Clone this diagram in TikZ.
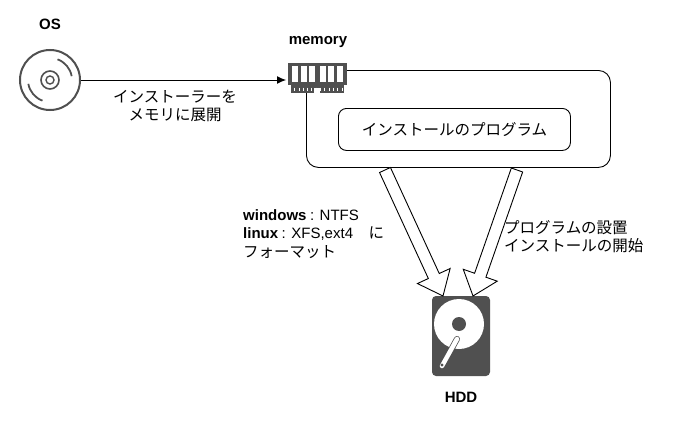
\documentclass[tikz,border=0pt]{standalone}
\usepackage{fontspec}
\setmainfont{Liberation Sans}
\newfontfamily\cjk{Noto Sans CJK JP}
\usetikzlibrary{calc,arrows.meta}
\definecolor{ic}{HTML}{505050}
\tikzset{x=1pt,y=-1pt,
 lbl/.style={font=\fontsize{15.5}{18.5}\selectfont\cjk, align=center, inner sep=0},
 blbl/.style={font=\fontsize{15}{17}\selectfont\bfseries, inner sep=0},
 box/.style={draw=black, line width=0.9pt, rounded corners=12pt},
 barrow/.style={draw=black, line width=0.9pt, fill=white}}
\newcommand{\lat}{\fontspec{Liberation Sans}\fontsize{15}{18.5}\selectfont}
\newcommand{\blockarrow}[2]{%
 \path[barrow] let \p1=(#1), \p2=(#2), \n1={atan2(\y2-\y1,\x2-\x1)}, \n2={veclen(\x2-\x1,\y2-\y1)} in
  [shift={(\p1)}, rotate=\n1, x=1pt, y=1pt]
  (0,-6) -- (\n2-22,-6) -- (\n2-22,-18) -- (\n2,0) -- (\n2-22,18) -- (\n2-22,6) -- (0,6) -- cycle;}
\begin{document}
\begin{tikzpicture}
\useasboundingbox (0,0) rectangle (689,439);
% OS disc
\coordinate (osc) at (50,80);
\draw[ic, line width=2pt] (osc) circle (30);
\draw[ic, line width=1.6pt] (osc) circle (9);
\draw[ic, line width=1.4pt] (osc) circle (4);
\draw[ic, line width=1.8pt] ($(osc)+(22*cos 10,-22*sin 10)$) arc[start angle=-10, end angle=-70, radius=22];
\draw[ic, line width=1.8pt] ($(osc)+(22*cos 190,-22*sin 190)$) arc[start angle=-190, end angle=-250, radius=22];
\node[blbl] (os) at (50,24) {OS};
\coordinate (osr) at (81,80);
% container
\node[box, minimum width=304pt, minimum height=97pt, anchor=north west] (mem) at (306,70) {};
\node[box, rounded corners=8pt, minimum width=232pt, minimum height=42pt, anchor=north west, lbl] (prog) at (338,108) {インストールのプログラム};
% memory icon
\fill[ic] (288,63) rectangle (347,85);
\foreach \i in {0,1,2} {\fill[white] (292+\i*8.5,66) rectangle (298+\i*8.5,82);
  \fill[white] (319.5+\i*8.5,66) rectangle (325.5+\i*8.5,82);}
\fill[ic] (291,85) rectangle (344,93);
\fill[white] (314,88) rectangle (320,93);
\foreach \i in {0,...,11} \draw[white, line width=0.6pt] (294.5+\i*4.3,87.5) -- (294.5+\i*4.3,91);
\node[blbl] (meml) at (318,42) {memory};
\coordinate (memin) at (286,80);
\draw[line width=0.9pt, -{Latex[length=9pt,width=8pt]}] (osr) -- (memin);
\node[lbl] (t1) at (175,106) {インストーラーを\\メモリに展開};
% HDD
\fill[ic, rounded corners=4pt] (432,296) rectangle (490,376);
\fill[white] (459,324) circle (25);
\fill[ic] (459,324) circle (7);
\draw[ic, line width=6pt, line cap=round] (457,339) -- (442,366);
\draw[white, line width=4.5pt, line cap=round] (457,339) -- (442,366);
\fill[ic] (442,365) circle (1.7);
\node[blbl] (hdd) at (461,397) {HDD};
\coordinate (a1s) at (385,170);
\coordinate (a1e) at (443,296);
\coordinate (a2s) at (517,170);
\coordinate (a2e) at (473,296);
\blockarrow{a1s}{a1e}
\blockarrow{a2s}{a2e}
\node[lbl, align=left, anchor=north west] (t2) at (243,209) {{\lat\bfseries windows} {\lat: NTFS}\\{\lat\bfseries linux} {\lat: XFS,ext4}　に\\フォーマット};
\node[lbl, align=left, anchor=north west] (t3) at (504,220) {プログラムの設置\\インストールの開始};
\end{tikzpicture}
\end{document}
